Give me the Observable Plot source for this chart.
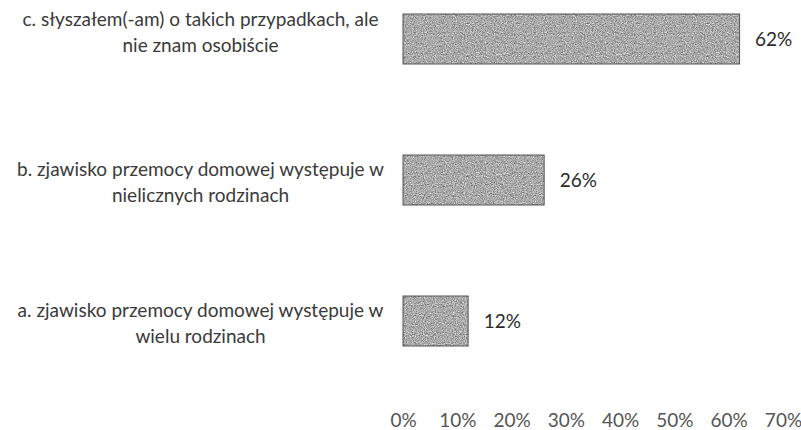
<!DOCTYPE html>
<html>
<head>
<meta charset="utf-8">
<script src="https://cdn.jsdelivr.net/npm/d3@7"></script>
<script src="https://cdn.jsdelivr.net/npm/@observablehq/plot@0.6"></script>
<style>
  html, body { margin: 0; padding: 0; background: #fff; }
</style>
</head>
<body>
<div id="chart"></div>
<script>
const categories = ["c", "b", "a"];
const labels = [
  "c. słyszałem(-am) o takich przypadkach, ale\nnie znam osobiście",
  "b. zjawisko przemocy domowej występuje w\nnielicznych rodzinach",
  "a. zjawisko przemocy domowej występuje w\nwielu rodzinach"
];
const values = [0.62, 0.26, 0.12];
const xTicks = [0, 0.1, 0.2, 0.3, 0.4, 0.5, 0.6, 0.7];

const data = categories.map((c, i) => ({cat: c, label: labels[i], value: values[i]}));

const labelStyle = {y: "cat", text: "label", frameAnchor: "left", textAnchor: "middle", dx: -203, lineHeight: 1.35, fill: "#3a3a3a"};

const chart = Plot.plot({
  width: 801,
  height: 430,
  marginLeft: 403,
  marginRight: 18,
  marginTop: 13,
  marginBottom: 84,
  style: {fontFamily: "Lato, sans-serif", fontSize: "19px", color: "#333", background: "#fff"},
  x: {domain: [0, 0.7], label: null},
  y: {domain: categories, paddingInner: 0.647, paddingOuter: 0, label: null, axis: null},
  marks: [
    Plot.barX(data, {y: "cat", x: "value", fill: "url(#grainfill)", stroke: "#555", strokeWidth: 1}),
    Plot.text(data, {y: "cat", x: "value", text: d => d3.format(".0%")(d.value), textAnchor: "start", dx: 15, fill: "#2a2a2a"}),
    Plot.axisX({ticks: xTicks, tickFormat: d3.format(".0%"), tickSize: 0, tickPadding: 67, fill: "#555", label: null}),
    Plot.text(data, {...labelStyle, filter: d => d.cat !== "c", dy: 0}),
    Plot.text(data, {...labelStyle, filter: d => d.cat === "c", dy: -9})
  ]
});

// grainy, scan-like fill for the bars (noise pattern in mid gray)
const ns = "http://www.w3.org/2000/svg";
const defs = document.createElementNS(ns, "defs");
defs.innerHTML = `
<filter id="grain" x="0" y="0" width="100%" height="100%" filterUnits="userSpaceOnUse" color-interpolation-filters="sRGB">
  <feTurbulence type="fractalNoise" baseFrequency="0.9" numOctaves="2" seed="4" result="noise"/>
  <feColorMatrix in="noise" type="matrix"
    values="0.33 0.33 0.33 0 0
            0.33 0.33 0.33 0 0
            0.33 0.33 0.33 0 0
            0 0 0 0 1" result="gray"/>
  <feComponentTransfer in="gray">
    <feFuncR type="linear" slope="1.3" intercept="0.02"/>
    <feFuncG type="linear" slope="1.3" intercept="0.02"/>
    <feFuncB type="linear" slope="1.3" intercept="0.02"/>
  </feComponentTransfer>
</filter>
<pattern id="grainfill" patternUnits="userSpaceOnUse" width="120" height="120">
  <rect width="120" height="120" fill="#a5a5a5" filter="url(#grain)"/>
</pattern>`;
chart.insertBefore(defs, chart.firstChild);
document.getElementById("chart").appendChild(chart);
</script>
</body>
</html>
